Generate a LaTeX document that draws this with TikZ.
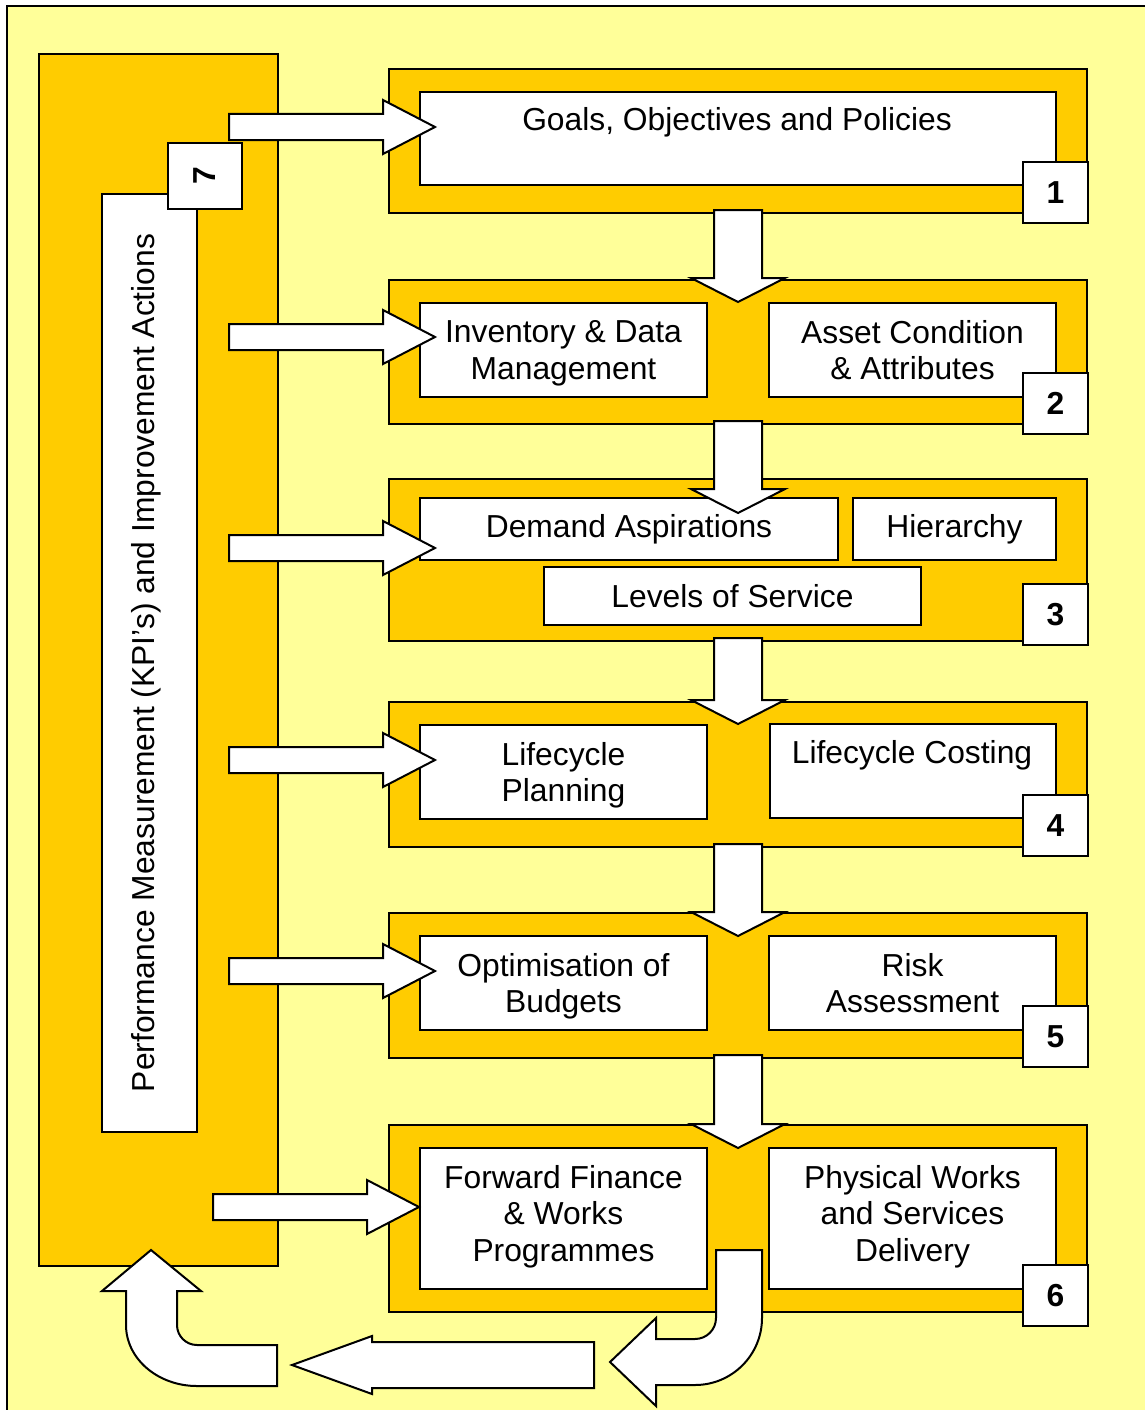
\documentclass[tikz,border=0pt]{standalone}
\usepackage{fontspec}
\setmainfont{Liberation Sans}
\usetikzlibrary{calc}
\definecolor{paleyellow}{HTML}{FFFF99}
\definecolor{gold}{HTML}{FFCC00}
\newcommand{\cardfont}{\fontsize{31.8}{36.5}\selectfont}
% block arrow down from one stage into the next
\newcommand{\flowdown}[3]{%
  \draw[blockarrow] let \p1=(#1.south), \p2=(#2.north) in
    (\x1-24pt,\y1+4pt) -- (\x1+24pt,\y1+4pt) -- (\x1+24pt,\y2-#3pt+24pt) -- (\x1+47pt,\y2-#3pt+24pt)
    -- (\x1,\y2-#3pt) -- (\x1-47pt,\y2-#3pt+24pt) -- (\x1-24pt,\y2-#3pt+24pt) -- cycle;}
% block arrow right from the KPI column into a card
\newcommand{\flowright}[3]{%
  \draw[blockarrow] let \p1=(#1), \p2=(#2.west) in
    (\x1,\y1+13pt) -- (\x2+#3pt-52pt,\y1+13pt) -- (\x2+#3pt-52pt,\y1+27pt) -- (\x2+#3pt,\y1)
    -- (\x2+#3pt-52pt,\y1-27pt) -- (\x2+#3pt-52pt,\y1-13pt) -- (\x1,\y1-13pt) -- cycle;}
\tikzset{
  panel/.style={draw, line width=2pt, fill=gold, anchor=north west, minimum width=698pt},
  card/.style={draw, line width=2pt, fill=white, anchor=north west, inner sep=0pt, align=center, font=\cardfont},
  numbox/.style={draw, line width=2pt, fill=white, anchor=north west, minimum width=65pt, minimum height=61pt, inner sep=0pt, font=\cardfont\bfseries},
  blockarrow/.style={draw, line width=2pt, fill=white, line join=miter, miter limit=20}
}
\begin{document}
\begin{tikzpicture}[x=1pt,y=1pt]
  \useasboundingbox (0,0) rectangle (1144,-1410);
  \draw[line width=2pt, fill=paleyellow] (7,-6) rectangle (1150,-1416);

  \node[panel, minimum width=239pt, minimum height=1212pt] (kpipanel) at (38,-53) {};
  \node[panel, minimum height=144pt] (stage1) at (388,-68) {};
  \node[panel, minimum height=144pt] (stage2) at (388,-279) {};
  \node[panel, minimum height=162pt] (stage3) at (388,-478) {};
  \node[panel, minimum height=145pt] (stage4) at (388,-701) {};
  \node[panel, minimum height=145pt] (stage5) at (388,-912) {};
  \node[panel, minimum height=187pt] (stage6) at (388,-1124) {};

  \node[card, minimum width=636pt, minimum height=93pt] (goals) at (419,-91) {};
  \node[font=\cardfont, anchor=base] (goalstext) at (737,-131) {Goals, Objectives and Policies};
  \node[card, text depth=0pt, minimum width=287pt, minimum height=94pt] (inv) at (419,-302) {Inventory \& Data\\Management};
  \node[card, minimum width=287pt, minimum height=94pt] (asset) at (768,-302) {Asset Condition\\\& Attributes};
  \node[card, minimum width=418pt, minimum height=62pt] (demand) at (419,-497) {Demand Aspirations};
  \node[card, minimum width=203pt, minimum height=62pt] (hier) at (852,-497) {Hierarchy};
  \node[card, minimum width=377pt, minimum height=58pt] (levels) at (543,-566) {Levels of Service};
  \node[card, text depth=0pt, minimum width=287pt, minimum height=94pt] (lplan) at (419,-724) {Lifecycle\\Planning};
  \node[card, minimum width=286pt, minimum height=94pt] (lcost) at (769,-723) {};
  \node[font=\cardfont, anchor=base] (lcosttext) at (912,-763) {Lifecycle Costing};
  \node[card, text depth=0pt, minimum width=287pt, minimum height=94pt] (optim) at (419,-935) {Optimisation of\\Budgets};
  \node[card, minimum width=287pt, minimum height=94pt] (risk) at (768,-935) {Risk\\Assessment};
  \node[card, minimum width=287pt, minimum height=141pt, text depth=11pt] (fwd) at (419,-1147) {Forward Finance\\\& Works\\Programmes};
  \node[card, minimum width=287pt, minimum height=141pt, text depth=11pt] (phys) at (768,-1147) {Physical Works\\and Services\\Delivery};
  \node[card, anchor=center, rotate=90, minimum width=938pt, minimum height=95pt, text depth=13pt] (kpi) at (149.5,-663) {Performance Measurement (KPI’s) and Improvement Actions};

  \coordinate (k1) at (229,-127);
  \coordinate (k2) at (229,-337);
  \coordinate (k3) at (229,-548);
  \coordinate (k4) at (229,-760);
  \coordinate (k5) at (229,-971);
  \coordinate (k6) at (213,-1207);
  \flowright{k1}{goals}{16}
  \flowright{k2}{inv}{16}
  \flowright{k3}{demand}{16}
  \flowright{k4}{lplan}{16}
  \flowright{k5}{optim}{16}
  \flowright{k6}{fwd}{0}
  \flowdown{stage1}{stage2}{23}
  \flowdown{stage2}{stage3}{35}
  \flowdown{stage3}{stage4}{23}
  \flowdown{stage4}{stage5}{24}
  \flowdown{stage5}{stage6}{24}

  \node[numbox] (n1) at (1022,-161) {1};
  \node[numbox] (n2) at (1022,-372) {2};
  \node[numbox] (n3) at (1022,-583) {3};
  \node[numbox] (n4) at (1022,-794) {4};
  \node[numbox] (n5) at (1022,-1005) {5};
  \node[numbox] (n6) at (1022,-1264) {6};
  \node[numbox, anchor=center, rotate=90, minimum width=66pt, minimum height=74pt] (n7) at (205,-176) {7};

  % return path back to the KPI column
  \draw[blockarrow] (716,-1250) -- (762,-1250) -- (762,-1318) arc[start angle=0, end angle=-90, radius=67pt]
    -- (656,-1385) -- (656,-1406) -- (610,-1362) -- (656,-1318) -- (656,-1339) -- (695,-1339)
    arc[start angle=-90, end angle=0, radius=21pt] -- cycle;
  \draw[blockarrow] (594,-1342) -- (594,-1388) -- (372,-1388) -- (372,-1394) -- (292,-1365)
    -- (372,-1336) -- (372,-1342) -- cycle;
  \draw[blockarrow] (277,-1345) -- (277,-1386) -- (197,-1386)
    arc[start angle=270, end angle=180, x radius=71pt, y radius=61pt] -- (126,-1291) -- (102,-1291)
    -- (151,-1250) -- (201,-1291) -- (177,-1291) -- (177,-1325)
    arc[start angle=180, end angle=270, radius=20pt] -- cycle;
\end{tikzpicture}
\end{document}
